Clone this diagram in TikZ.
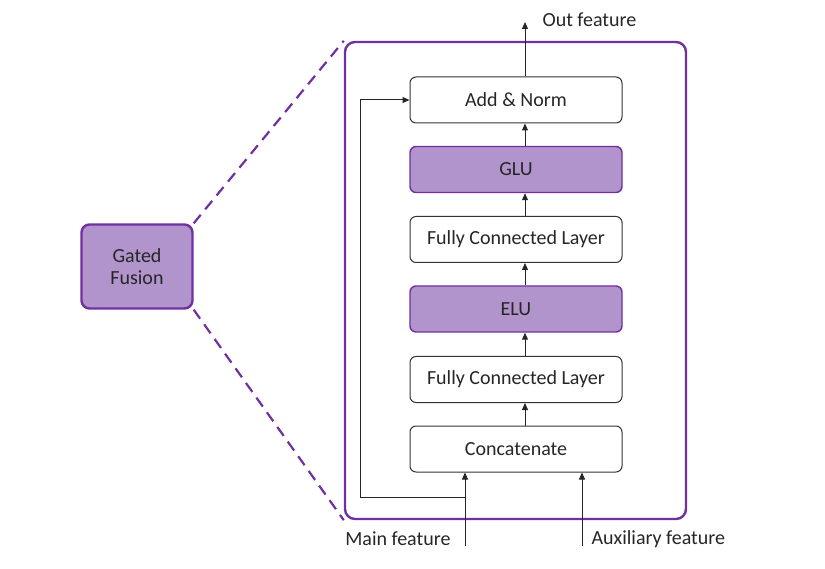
\documentclass[tikz,border=0pt]{standalone}
\usepackage{fontspec}
\setmainfont{Carlito}
\usetikzlibrary{arrows.meta}
\definecolor{pborder}{HTML}{7030A0}
\definecolor{pfill}{HTML}{B194CB}
\definecolor{txt}{HTML}{262626}
\begin{document}
\begin{tikzpicture}[x=1pt,y=-1pt,
  every node/.style={font=\fontsize{20}{23}\selectfont, text=txt},
  whitebox/.style={draw=black!80, line width=1pt, rounded corners=6pt, fill=white, minimum width=212pt, minimum height=46pt, inner sep=0pt},
  purplebox/.style={draw=pborder, line width=1.4pt, rounded corners=6pt, fill=pfill, minimum width=212pt, minimum height=46pt, inner sep=0pt},
  arr/.style={draw=black!85, line width=1pt, -{Triangle[length=7pt,width=6pt]}},
  dline/.style={draw=pborder, line width=2.2pt, dash pattern=on 11pt off 7pt}]
\useasboundingbox (0,0) rectangle (825,569);
% gated fusion
\node[draw=pborder, line width=2.4pt, rounded corners=8pt, fill=pfill, minimum width=111pt, minimum height=84pt, align=center, inner sep=0pt] (gf) at (137,266.5) {Gated\\[-1pt]Fusion};
% big box
\node[draw=pborder, line width=2.4pt, rounded corners=10pt, minimum width=341pt, minimum height=477pt, inner sep=0pt] (big) at (515.5,280.5) {};
\draw[dline] (gf.north east) -- (big.north west);
\draw[dline] (gf.south east) -- (big.south west);
% stack
\node[whitebox] (add) at (516,100) {Add \& Norm};
\node[purplebox] (glu) at (516,169.5) {GLU};
\node[whitebox] (fc2) at (516,239.5) {Fully Connected Layer};
\node[purplebox] (elu) at (516,309) {ELU};
\node[whitebox] (fc1) at (516,379.5) {Fully Connected Layer};
\node[whitebox] (cat) at (516,449) {Concatenate};
\draw[arr] (cat.north -| 525,0) -- (fc1.south -| 525,0);
\draw[arr] (fc1.north -| 525,0) -- (elu.south -| 525,0);
\draw[arr] (elu.north -| 525,0) -- (fc2.south -| 525,0);
\draw[arr] (fc2.north -| 525,0) -- (glu.south -| 525,0);
\draw[arr] (glu.north -| 525,0) -- (add.south -| 525,0);
\coordinate (outc) at (525,22);
\draw[arr] (add.north -| 525,0) -- (outc);
\node[anchor=west] (outl) at (539,20) {Out feature};
% inputs
\coordinate (mainin) at (465,546);
\coordinate (auxin) at (582,546);
\coordinate (split) at (465,497);
\coordinate (corner1) at (360,497);
\coordinate (corner2) at (360,100);
\draw[arr] (mainin) -- (cat.south -| mainin);
\draw[arr] (auxin) -- (cat.south -| auxin);
\draw[arr] (split) -- (corner1) -- (corner2) -- (add.west);
\node[anchor=east] (mainl) at (454,539) {Main feature};
\node[anchor=west] (auxl) at (588,539) {Auxiliary feature};
\end{tikzpicture}
\end{document}
